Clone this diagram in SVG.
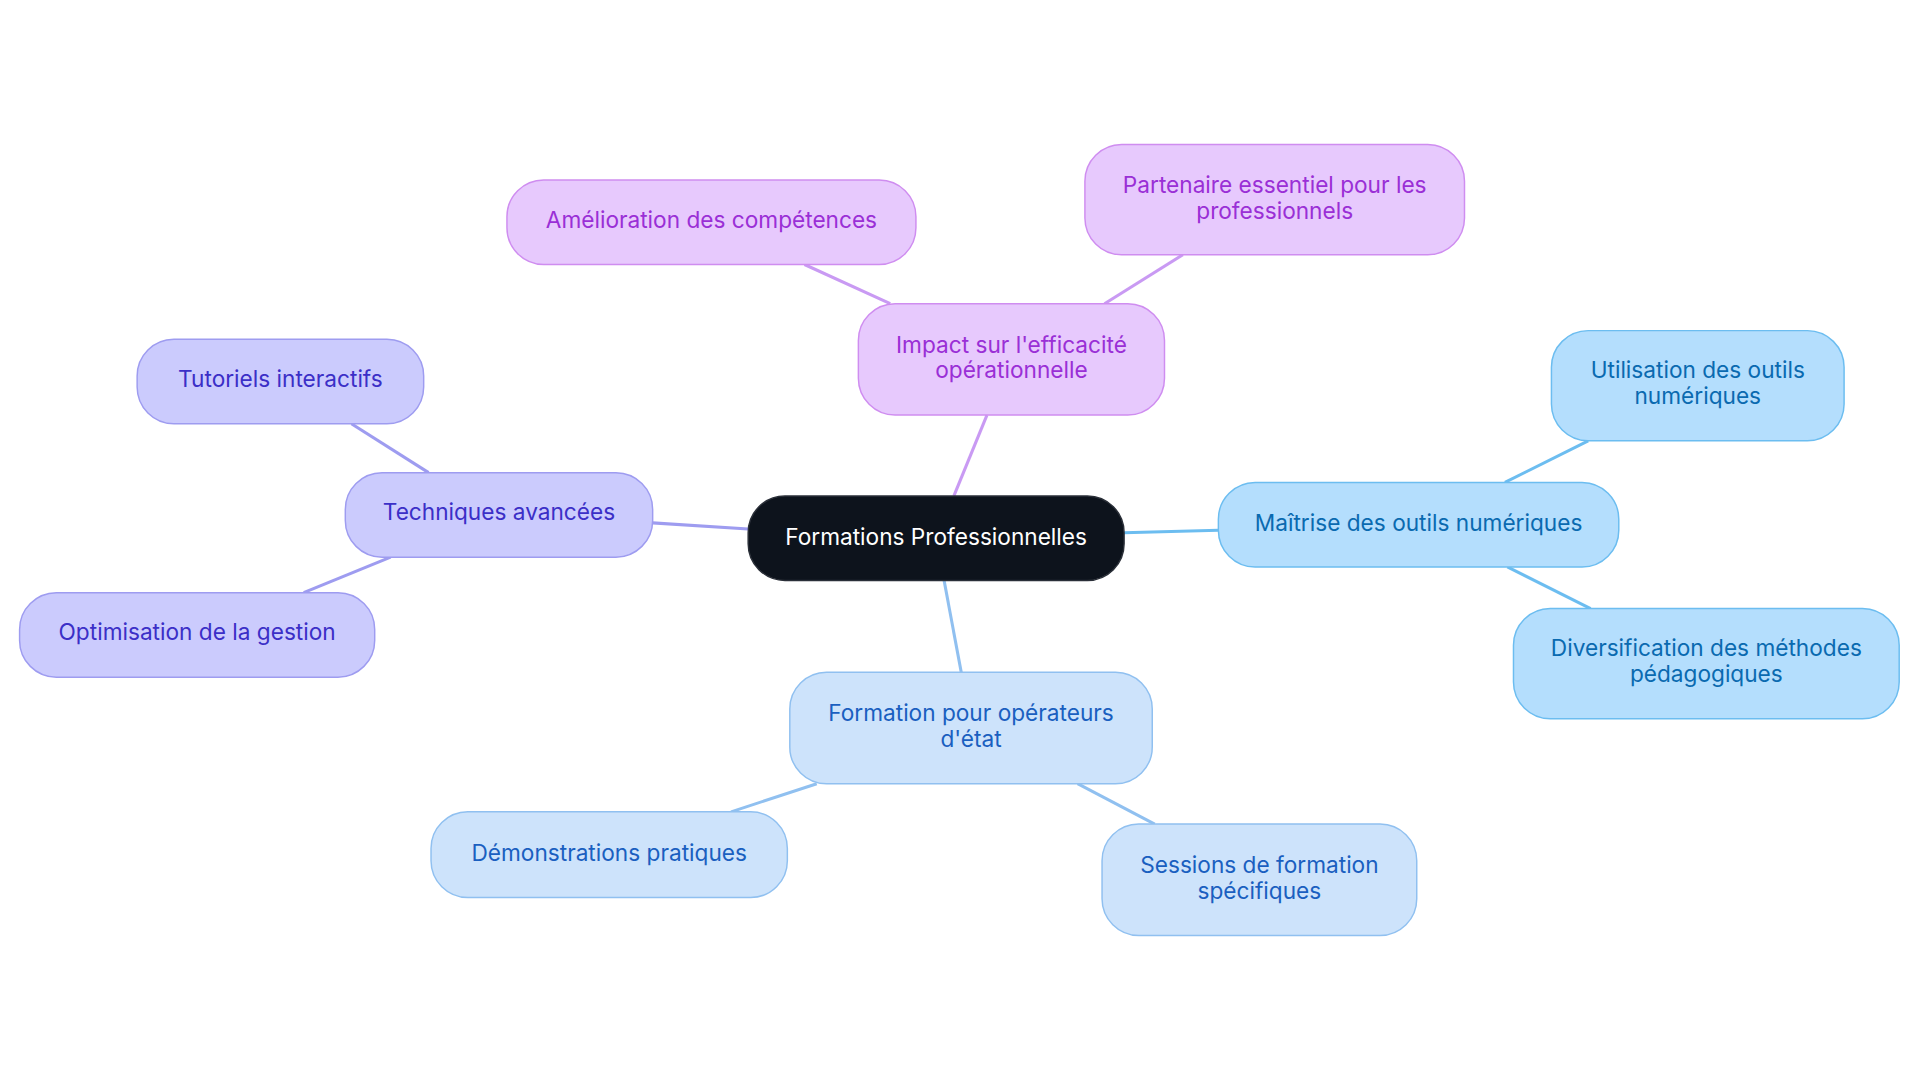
<svg xmlns="http://www.w3.org/2000/svg" width="1920" height="1083" viewBox="0 0 1920 1083">
<style>
text{font-family:Inter,"Open Sans","Liberation Sans",sans-serif;font-size:18.5px;text-anchor:middle}
.c rect{fill:#0d131c;stroke:#2a2f38;stroke-width:1.2}.c text{fill:#fff}
.p rect{fill:#e7c9fd;stroke:#cf8df0;stroke-width:1.2}.p text{fill:#9a2fd6}
.v rect{fill:#cbcbfd;stroke:#9e9cf0;stroke-width:1.2}.v text{fill:#3b2fc7}
.b rect{fill:#b4defd;stroke:#6cbdf0;stroke-width:1.2}.b text{fill:#0a6ab0}
.l rect{fill:#cde3fb;stroke:#90c0f0;stroke-width:1.2}.l text{fill:#1a5fc0}
.e line{stroke-width:2.5;fill:none}
</style>
<rect width="1920" height="1083" fill="#fff"/>
<g transform="scale(1.2245)">
<g id="edges" class="e">
<line x1="779" y1="405" x2="806" y2="339" stroke="#c99af3"/>
<line x1="727" y1="248" x2="657" y2="216" stroke="#c99af3"/>
<line x1="902" y1="248" x2="966" y2="208" stroke="#c99af3"/>
<line x1="611" y1="432" x2="533" y2="427" stroke="#9e9cf0"/>
<line x1="350" y1="386" x2="287" y2="346" stroke="#9e9cf0"/>
<line x1="319" y1="455" x2="248" y2="484" stroke="#9e9cf0"/>
<line x1="918" y1="435" x2="995" y2="433" stroke="#6cbdf0"/>
<line x1="1229" y1="394" x2="1297" y2="360" stroke="#6cbdf0"/>
<line x1="1231" y1="463" x2="1299" y2="497" stroke="#6cbdf0"/>
<line x1="771" y1="474" x2="785" y2="549" stroke="#90c0f0"/>
<line x1="667" y1="640" x2="597" y2="663" stroke="#90c0f0"/>
<line x1="880" y1="640" x2="943" y2="673" stroke="#90c0f0"/>
</g>
<g id="center" class="c"><rect x="611" y="405" width="307" height="69" rx="30"/><text x="764.5" y="445">Formations Professionnelles</text></g>
<g id="impact" class="p"><rect x="701" y="248" width="250" height="91" rx="30"/><text x="826" y="288">Impact sur l'efficacité</text><text x="826" y="309">opérationnelle</text></g>
<g id="amelioration" class="p"><rect x="414" y="147" width="334" height="69" rx="30"/><text x="581" y="186">Amélioration des compétences</text></g>
<g id="partenaire" class="p"><rect x="886" y="118" width="310" height="90" rx="30"/><text x="1041" y="158">Partenaire essentiel pour les</text><text x="1041" y="179">professionnels</text></g>
<g id="techniques" class="v"><rect x="282" y="386" width="251" height="69" rx="30"/><text x="407.5" y="425">Techniques avancées</text></g>
<g id="tutoriels" class="v"><rect x="112" y="277" width="234" height="69" rx="30"/><text x="229" y="316">Tutoriels interactifs</text></g>
<g id="optimisation" class="v"><rect x="16" y="484" width="290" height="69" rx="30"/><text x="161" y="523">Optimisation de la gestion</text></g>
<g id="maitrise" class="b"><rect x="995" y="394" width="327" height="69" rx="30"/><text x="1158.5" y="434">Maîtrise des outils numériques</text></g>
<g id="utilisation" class="b"><rect x="1267" y="270" width="239" height="90" rx="30"/><text x="1386.5" y="309">Utilisation des outils</text><text x="1386.5" y="330">numériques</text></g>
<g id="diversification" class="b"><rect x="1236" y="497" width="315" height="90" rx="30"/><text x="1393.5" y="536">Diversification des méthodes</text><text x="1393.5" y="557">pédagogiques</text></g>
<g id="formation" class="l"><rect x="645" y="549" width="296" height="91" rx="30"/><text x="793" y="589">Formation pour opérateurs</text><text x="793" y="610">d'état</text></g>
<g id="demonstrations" class="l"><rect x="352" y="663" width="291" height="70" rx="30"/><text x="497.5" y="703">Démonstrations pratiques</text></g>
<g id="sessions" class="l"><rect x="900" y="673" width="257" height="91" rx="30"/><text x="1028.5" y="713">Sessions de formation</text><text x="1028.5" y="734">spécifiques</text></g>
</g>
</svg>
